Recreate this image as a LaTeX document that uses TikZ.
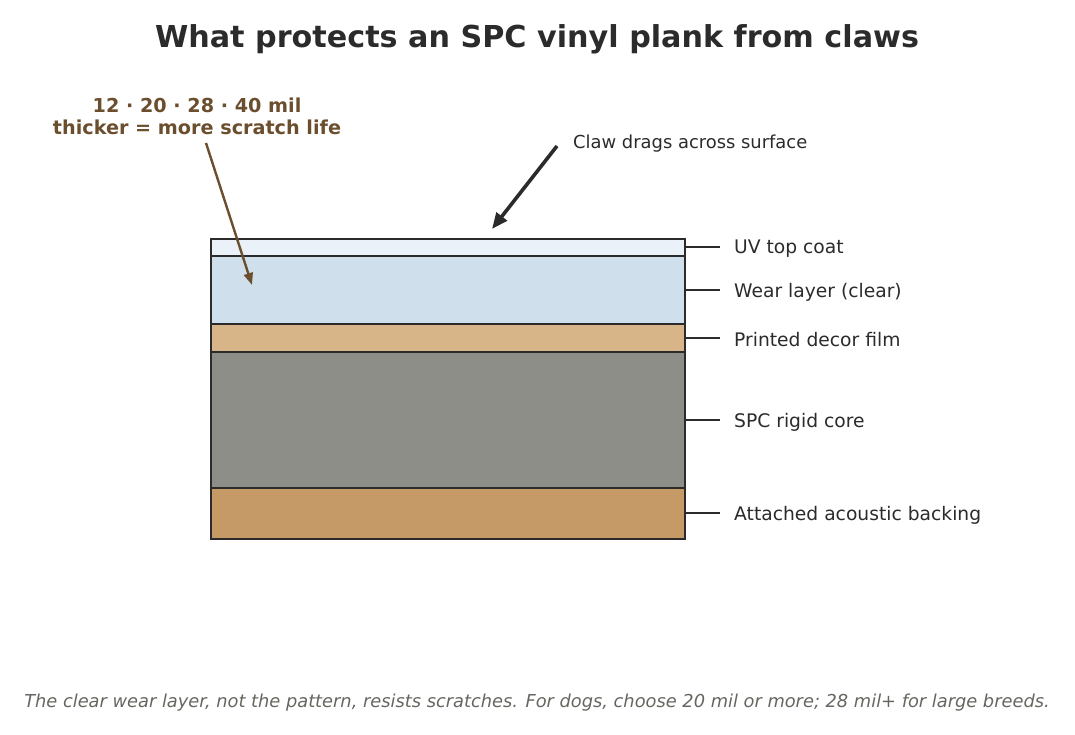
\documentclass[tikz,border=0pt]{standalone}
\usepackage{fontspec}
\setmainfont{DejaVu Sans}
\usepackage{xcolor}
\usetikzlibrary{arrows.meta,positioning}
\definecolor{inkdark}{HTML}{2B2B2B}
\definecolor{inkbrown}{HTML}{6B4E2E}
\definecolor{inkgray}{HTML}{666660}
\definecolor{uvfill}{HTML}{EAF1F8}
\definecolor{wearfill}{HTML}{CFDFEB}
\definecolor{decorfill}{HTML}{D8B589}
\definecolor{corefill}{HTML}{8D8E87}
\definecolor{backfill}{HTML}{C69A66}
\tikzset{
  layerbox/.style={draw=inkdark, line width=2.6pt, inner sep=0pt, outer sep=0pt,
    minimum width=474pt},
  layerlbl/.style={anchor=west, inner sep=0pt, text=inkdark, font=\fontsize{18.7}{22}\selectfont},
  tick/.style={draw=inkdark, line width=2pt, shorten >=14pt},
  clawarrw/.style={-{Triangle[length=16pt,width=13pt]}, line width=3.6pt, draw=inkdark},
  milarrw/.style={-{Triangle[length=12pt,width=9pt]}, line width=2.4pt, draw=inkbrown},
}
\begin{document}
\begin{tikzpicture}[x=1pt,y=-1pt]
  \useasboundingbox (0,0) rectangle (1075,735);

  % Title
  \node[font=\bfseries\fontsize{30.2}{34}\selectfont, text=inkdark] (title) at (537,39)
    {What protects an SPC vinyl plank from claws};

  % Layers, top to bottom
  \node[layerbox, fill=uvfill, minimum height=17pt] (uv) at (448,247.5) {};
  \node[layerbox, fill=wearfill, minimum height=68pt] (wear) at (448,290) {};
  \node[layerbox, fill=decorfill, minimum height=28pt] (decor) at (448,338) {};
  \node[layerbox, fill=corefill, minimum height=136pt] (core) at (448,420) {};
  \node[layerbox, fill=backfill, minimum height=51pt] (back) at (448,513.5) {};

  % Layer labels
  \node[layerlbl] (uvlbl) at (734,249) {UV top coat};
  \node[layerlbl] (wearlbl) at (734,292) {Wear layer (clear)};
  \node[layerlbl] (decorlbl) at (734,340) {Printed decor film};
  \node[layerlbl] (corelbl) at (734,422) {SPC rigid core};
  \node[layerlbl] (backlbl) at (734,515) {Attached acoustic backing};
  \foreach \lay/\ty in {uv/247,wear/290,decor/338,core/420,back/513}
    \draw[tick] (\lay.east |- 0,\ty) -- (\lay lbl.west |- 0,\ty);

  % Claw
  \node[anchor=west, inner sep=0pt, text=inkdark, font=\fontsize{17.9}{21}\selectfont] (clawlbl)
    at (573,144) {Claw drags across surface};
  \coordinate (clawtail) at (557,146);
  \coordinate (clawtip) at (492,229);
  \draw[clawarrw] (clawtail) -- (clawtip);

  % Wear layer thickness note
  \node[align=center, inner sep=0pt, text=inkbrown, font=\bfseries\fontsize{19.2}{22}\selectfont] (milnote)
    at (197,116) {12 · 20 · 28 · 40 mil\\thicker = more scratch life};
  \coordinate (miltip) at (252,285);
  \draw[milarrw] (206,143) -- (miltip);

  % Footer
  \node[text=inkgray, font=\itshape\fontsize{17.8}{21}\selectfont] (footer) at (537,703)
    {The clear wear layer, not the pattern, resists scratches. For dogs, choose 20 mil or more; 28 mil+ for large breeds.};
\end{tikzpicture}
\end{document}
